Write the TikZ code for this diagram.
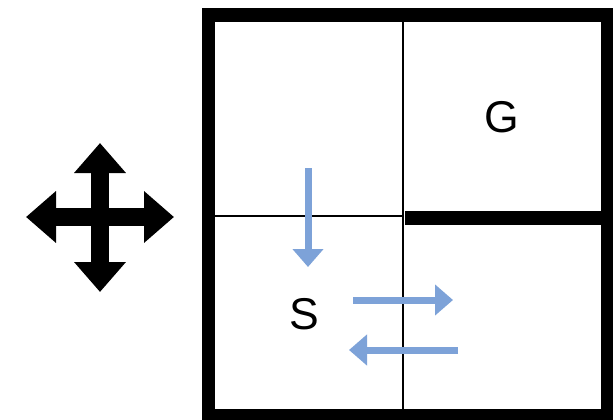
\documentclass[tikz,border=0pt]{standalone}
\usepackage{fontspec}
\setmainfont{Liberation Sans}
\usetikzlibrary{arrows.meta}

\definecolor{moveblue}{RGB}{125,162,216}

\begin{document}
\begin{tikzpicture}[x=0.03cm, y=-0.03cm]
    \useasboundingbox (0,0) rectangle (613,420);
    \clip (0,0) rectangle (613,420);

    % corners of the grid world
    \coordinate (NW) at (208,15);
    \coordinate (SE) at (607,415);
    \coordinate (Mtop) at (403,15);
    \coordinate (Mbot) at (403,415);
    \coordinate (Wmid) at (208,216);
    \coordinate (Cmid) at (403,216);
    \coordinate (Wall) at (405,218);
    \coordinate (Emid) at (607,218);

    % outer wall
    \draw[line width=0.39cm] (NW) rectangle (SE);

    % thin cell borders
    \draw[line width=1.3pt] (Mtop) -- (Mbot);
    \draw[line width=1.3pt] (Wmid) -- (Cmid);

    % wall under the goal cell
    \draw[line width=0.42cm] (Wall) -- (Emid);

    % cell labels
    \node[font=\fontsize{38}{40}\selectfont] (G) at (502,117) {G};
    \node[font=\fontsize{38}{40}\selectfont] (S) at (304,314) {S};

    % moves inside the grid
    \coordinate (D1) at (308,168);
    \coordinate (D2) at (308,267);
    \coordinate (R1) at (353,300);
    \coordinate (R2) at (453,300);
    \coordinate (L1) at (458,350);
    \coordinate (L2) at (349,350);
    \draw[moveblue, line width=0.21cm, -{Triangle[width=0.9cm, length=0.54cm]}] (D1) -- (D2);
    \draw[moveblue, line width=0.21cm, -{Triangle[width=0.9cm, length=0.54cm]}] (R1) -- (R2);
    \draw[moveblue, line width=0.21cm, -{Triangle[width=0.9cm, length=0.54cm]}] (L1) -- (L2);

    % four-way move symbol
    \coordinate (AW) at (26,217);
    \coordinate (AE) at (174,217);
    \coordinate (AN) at (100,143);
    \coordinate (AS) at (100,292);
    \draw[line width=0.54cm, {Triangle[width=1.5cm, length=0.9cm]}-{Triangle[width=1.5cm, length=0.9cm]}] (AW) -- (AE);
    \draw[line width=0.54cm, {Triangle[width=1.5cm, length=0.9cm]}-{Triangle[width=1.5cm, length=0.9cm]}] (AN) -- (AS);

\end{tikzpicture}
\end{document}
